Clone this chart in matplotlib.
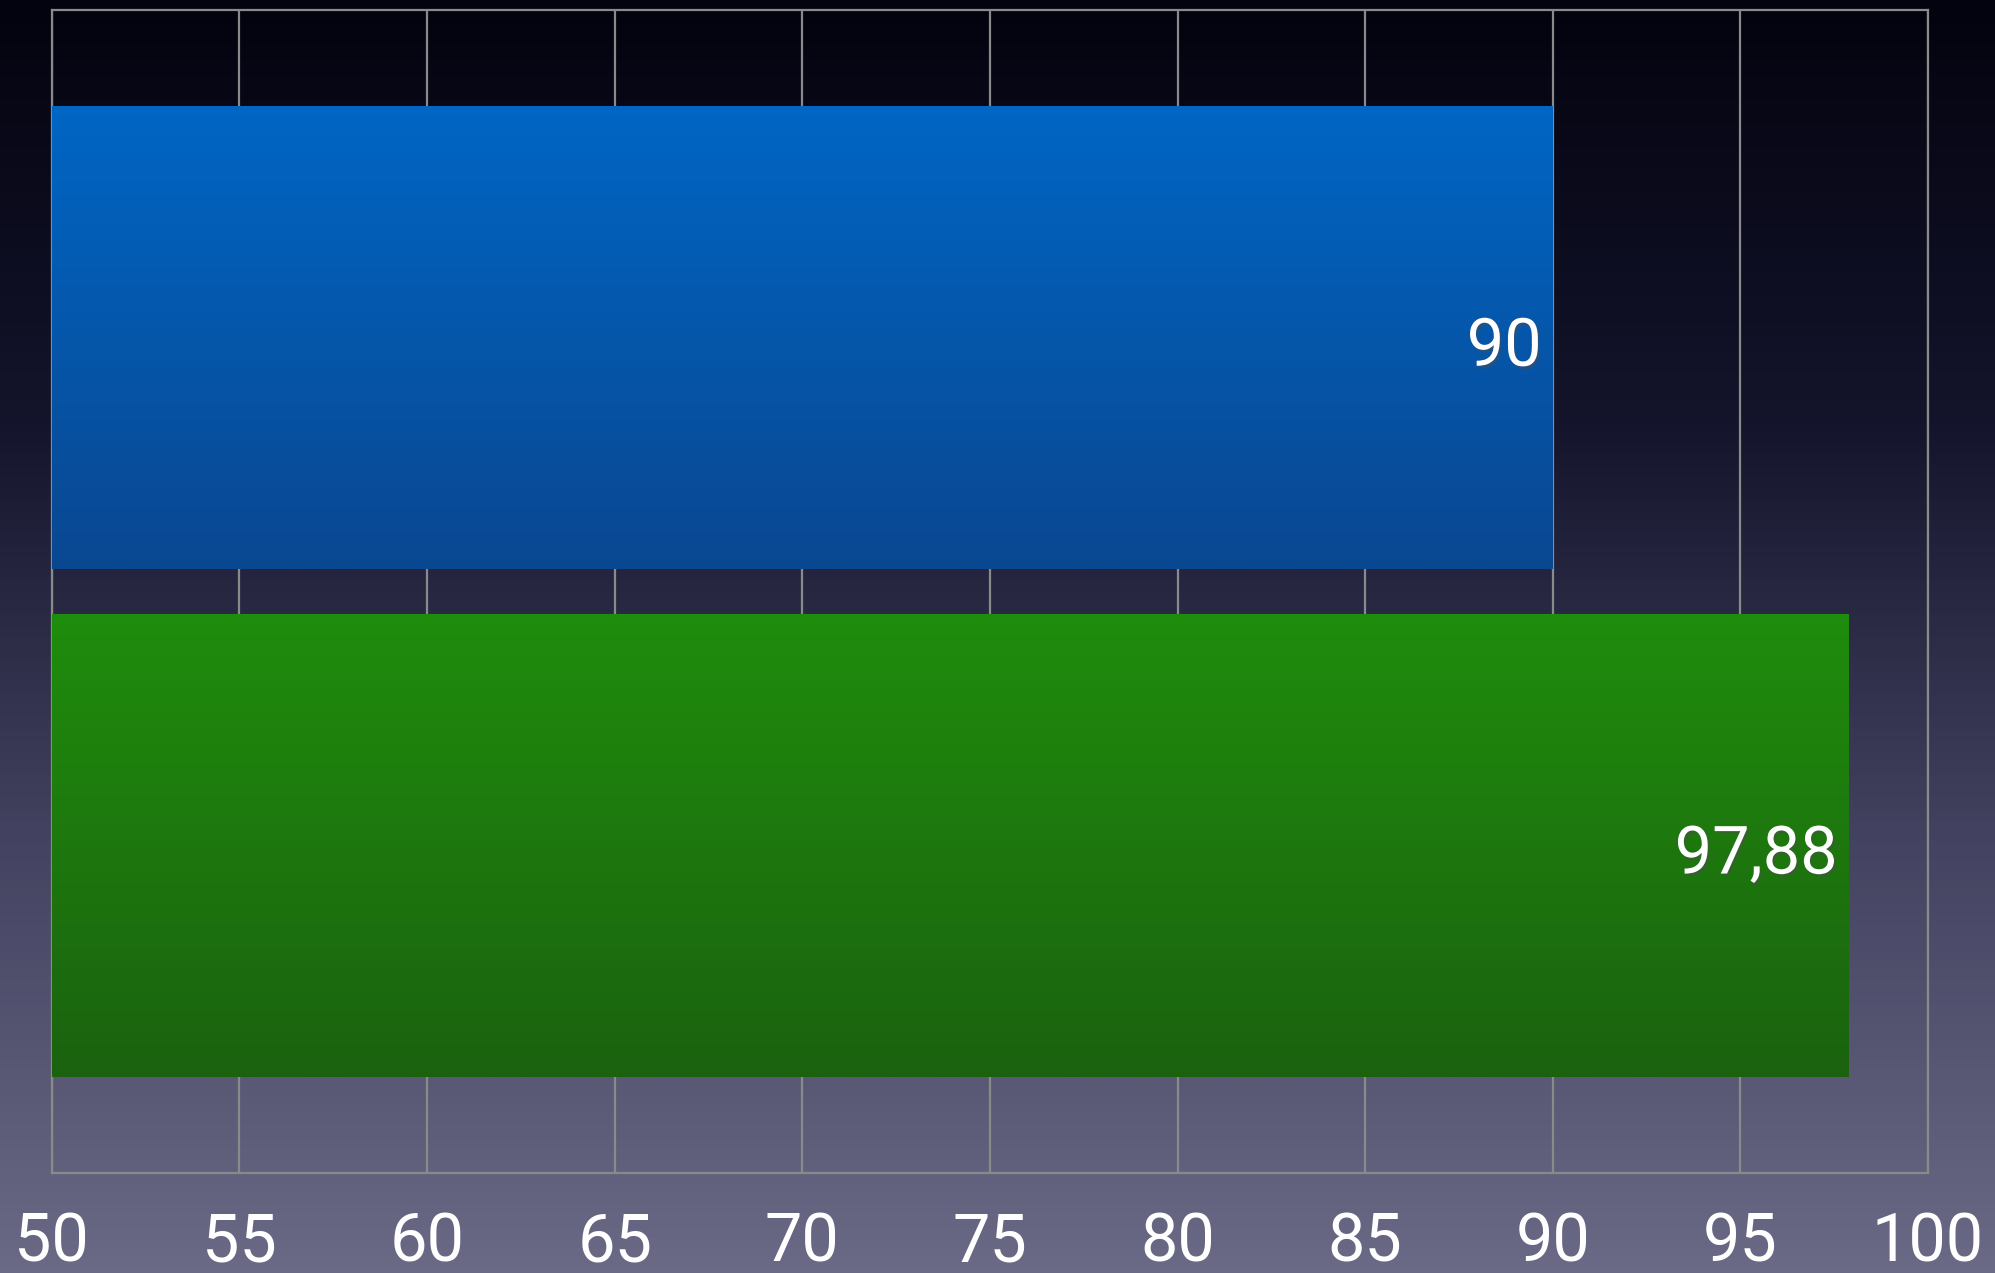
import matplotlib.pyplot as plt
import matplotlib.patheffects as pe
import numpy as np
from matplotlib.colors import LinearSegmentedColormap

categories = ['A', 'B']
values = [90, 97.88]
value_labels = ['90', '97,88']
ticks = [50, 55, 60, 65, 70, 75, 80, 85, 90, 95, 100]
bar_colors = [('#0066c4', '#0a4791'), ('#1f8d0c', '#1b620f')]

plt.rcParams['font.family'] = ['Roboto', 'DejaVu Sans']

fig = plt.figure(figsize=(19.95, 12.73), dpi=100)

# background gradient over the whole figure
bg = fig.add_axes([0, 0, 1, 1], zorder=-10)
bg_cmap = LinearSegmentedColormap.from_list('bg', ['#03030f', '#14142c', '#444462', '#6a6a86'])
bg.imshow(np.linspace(0, 1, 256).reshape(-1, 1), aspect='auto', cmap=bg_cmap,
          extent=[0, 1, 0, 1], origin='upper')
bg.axis('off')

ax = fig.add_axes([0.026, 0.0786, 0.9404, 0.9135])
ax.patch.set_alpha(0)

pos = np.arange(len(categories))
bars = ax.barh(pos, [v - ticks[0] for v in values], left=ticks[0], height=0.912,
               facecolor='none', edgecolor='none', zorder=3)

for bar, (top, bottom), lab in zip(bars, bar_colors, value_labels):
    x0, y0 = bar.get_x(), bar.get_y()
    w, h = bar.get_width(), bar.get_height()
    cmap = LinearSegmentedColormap.from_list('b', [top, bottom])
    im = ax.imshow(np.linspace(0, 1, 256).reshape(-1, 1), aspect='auto', cmap=cmap,
                   extent=[x0, x0 + w, y0 + h, y0], origin='upper', zorder=3)
    im.set_clip_path(bar)
    ax.text(x0 + w - 0.3, y0 + h / 2 + 0.02, lab, ha='right', va='center',
            color='white', fontsize=48, fontweight='normal', zorder=5,
            path_effects=[pe.SimplePatchShadow(offset=(1.5, -2), alpha=0.45), pe.Normal()])

ax.set_xlim(ticks[0], ticks[-1])
ax.set_ylim(1.645, -0.645)
ax.set_xticks(ticks)
ax.set_xticklabels([str(t) for t in ticks])
ax.set_yticks([])
ax.grid(axis='x', color='#8a8a8a', linewidth=1.6, zorder=1)
ax.set_axisbelow(True)
for s in ax.spines.values():
    s.set_color('#8a8a8a')
    s.set_linewidth(1.6)
ax.tick_params(axis='x', length=0, pad=28, labelsize=48, labelcolor='white')

fig.savefig('out.png', dpi=100)
